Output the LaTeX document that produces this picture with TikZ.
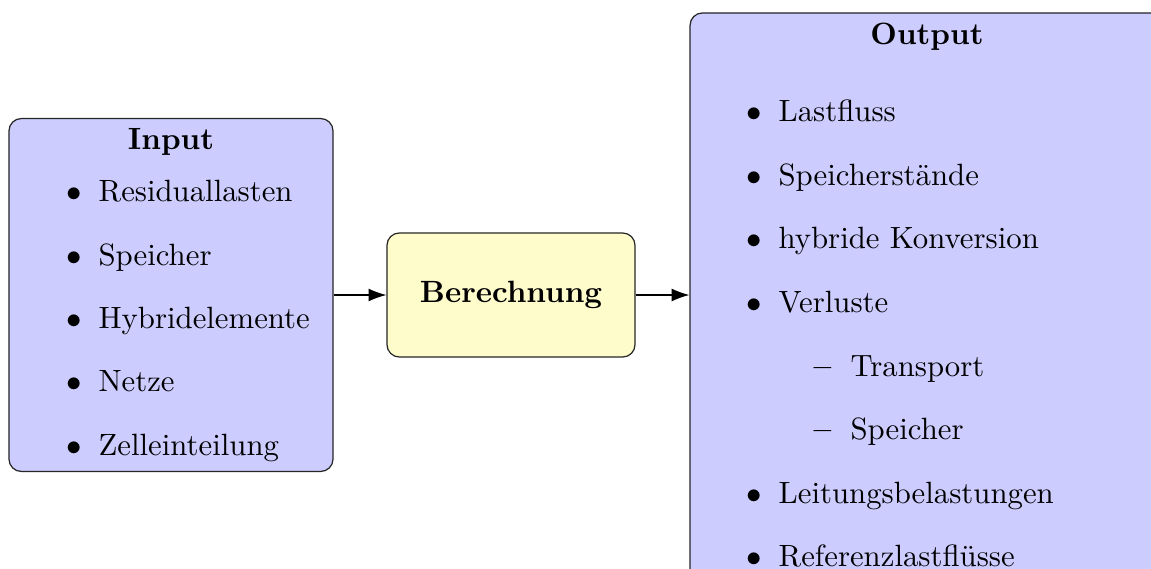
\documentclass[tikz,border=0pt]{standalone}
\usetikzlibrary{arrows.meta}
\begin{document}
\begin{tikzpicture}[x=0.325pt,y=-0.325pt,
  panel/.style={draw=black!85, fill=blue!20, rounded corners=4pt, line width=0.4pt, inner sep=0pt},
  calcbox/.style={draw=black!85, fill=yellow!20, rounded corners=4pt, line width=0.4pt, inner sep=0pt},
  item/.style={anchor=base west, inner sep=0pt},
  heading/.style={anchor=base, inner sep=0pt, font=\bfseries},
  flow/.style={-{Latex[length=5.8pt,width=4.2pt]}, line width=0.4pt, draw=black}]
\useasboundingbox (0,0) rectangle (1151,569);
\clip (0,0) rectangle (1151,569);

% boxes
\node[panel, minimum width=105.3pt, minimum height=114.7pt] (in) at (171,295) {};
\node[calcbox, minimum width=80.6pt, minimum height=40.3pt] (calc) at (511,295) {};
\node[panel, minimum width=154pt, minimum height=190.8pt] (out) at (927,306.5) {};

% connectors
\draw[flow] (in.east) -- (calc.west);
\draw[flow] (calc.east) -- (calc.east -| out.west);

% input list
\node[heading] (inhead) at (171,150) {Input};
\foreach \txt [count=\i from 0] in {Residuallasten,Speicher,Hybridelemente,Netze,Zelleinteilung}{
  \node[item] (inb\i) at (66,202+63.25*\i) {$\bullet$};
  \node[item] (int\i) at (98,202+63.25*\i) {\txt};
}

% calculation label
\node[heading] (calctext) at (511,302) {Berechnung};

% output list
\node[heading] (outhead) at (927,45) {Output};
\foreach \txt/\y [count=\i] in {Lastfluss/122,Speicherstände/185.5,hybride Konversion/249,Verluste/312.5,Leitungsbelastungen/503,Referenzlastflüsse/566.5}{
  \node[item] (outb\i) at (746,\y) {$\bullet$};
  \node[item] (outt\i) at (778,\y) {\txt};
}
\foreach \txt/\y [count=\i] in {Transport/376,Speicher/439.5}{
  \node[item] (subd\i) at (813,\y) {\bfseries\textendash};
  \node[item] (subt\i) at (850,\y) {\txt};
}
\end{tikzpicture}
\end{document}
